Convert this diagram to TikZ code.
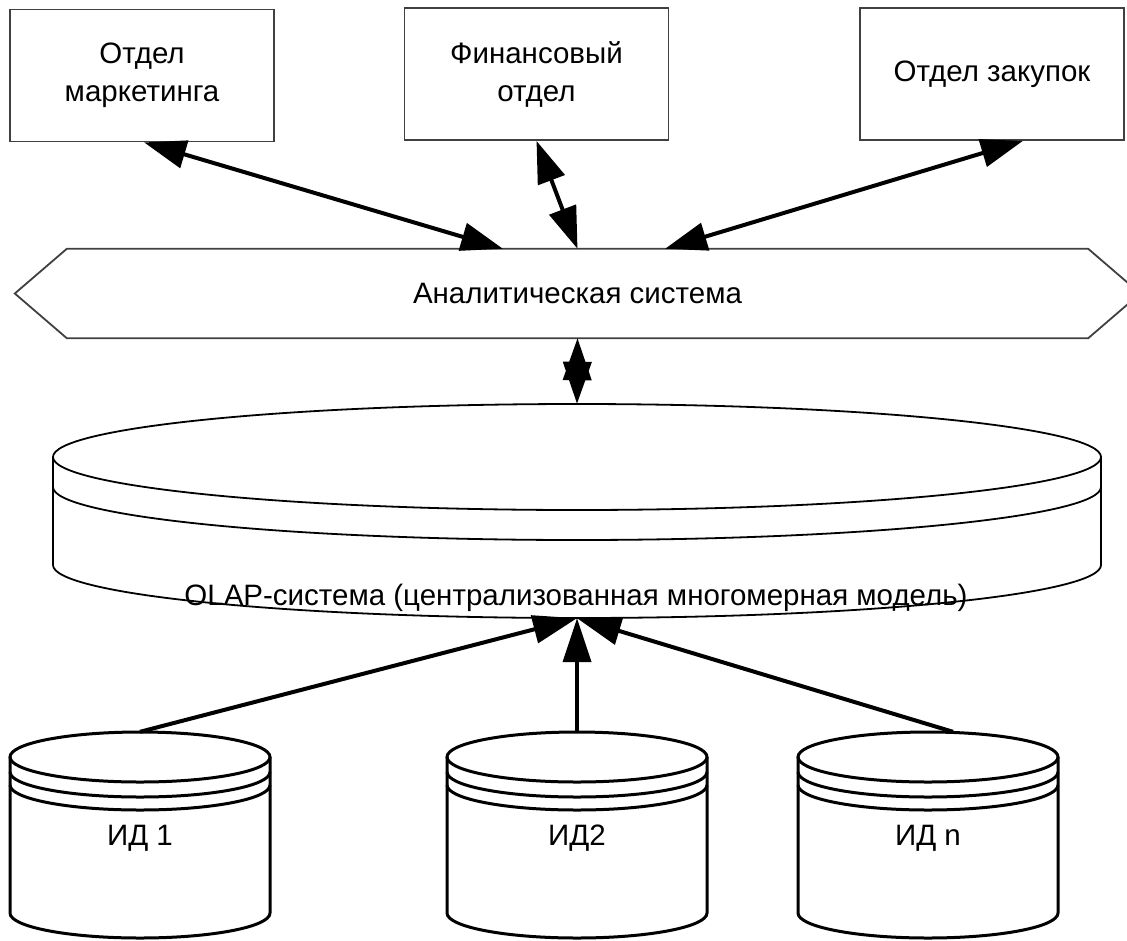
\documentclass[tikz,border=0pt]{standalone}
\usepackage{fontspec}
\setmainfont{Liberation Sans}
\usetikzlibrary{arrows.meta}
\begin{document}
\begin{tikzpicture}[x=1pt,y=-1pt,
  txt/.style={font=\fontsize{29.5}{38}\selectfont, align=center, inner sep=0pt},
  box/.style={txt, draw=black!75, line width=1.8pt, minimum width=264pt, minimum height=132pt},
  conn/.style={line width=4pt, {Triangle[length=42pt,width=28pt]}-{Triangle[length=42pt,width=28pt]}},
  feed/.style={line width=4pt, -{Triangle[length=44pt,width=28pt]}},
  hexline/.style={draw=black!75, line width=1.8pt, line join=miter},
  olapline/.style={line width=1.8pt},
  dbline/.style={line width=3pt},
  dbcyl/.pic={
    \draw[dbline] (0,0) ellipse [x radius=130, y radius=25];
    \draw[dbline] (-130,15) arc [start angle=180, end angle=0, x radius=130, y radius=25];
    \draw[dbline] (-130,28) arc [start angle=180, end angle=0, x radius=130, y radius=25];
    \draw[dbline] (-130,0) -- (-130,156) arc [start angle=180, end angle=0, x radius=130, y radius=25] -- (130,0);
  }]
\useasboundingbox (0,0) rectangle (1127,940);
\fill[white] (0,0) rectangle (1127,940);

% top boxes
\node[box] (mk) at (142,75.5) {Отдел\\маркетинга};
\node[box] (fin) at (536.5,74) {Финансовый\\отдел};
\node[box] (pr) at (992,74) {Отдел закупок};

% analytic system (hexagon)
\node[txt, minimum width=1021pt, minimum height=89pt] (ana) at (577.5,293.5) {Аналитическая система};
\draw[hexline] (ana.north west) -- (ana.north east) -- ([xshift=52pt]ana.east) -- (ana.south east)
  -- (ana.south west) -- ([xshift=-52pt]ana.west) -- cycle;

% OLAP cylinder
\node[minimum width=1048pt, minimum height=214pt, inner sep=0pt] (olap) at (577,511) {};
\draw[olapline] (577,457) ellipse [x radius=524, y radius=53];
\draw[olapline] (53,487) arc [start angle=180, end angle=0, x radius=524, y radius=53];
\draw[olapline] (53,457) -- (53,565) arc [start angle=180, end angle=0, x radius=524, y radius=53] -- (1101,457);
\node[txt] (olaplbl) at (576,598) {OLAP-система (централизованная многомерная модель)};

% source databases
\pic at (140,757) {dbcyl};
\pic at (577,757) {dbcyl};
\pic at (928,757) {dbcyl};
\node[txt, minimum width=262pt, minimum height=212pt] (d1) at (140,838) {ИД 1};
\node[txt, minimum width=262pt, minimum height=212pt] (d2) at (577,838) {ИД2};
\node[txt, minimum width=262pt, minimum height=212pt] (dn) at (928,838) {ИД n};

% connectors
\draw[conn] ([xshift=135pt]mk.south west) -- ([xshift=-74.5pt]ana.north);
\draw[conn] (fin.south) -- (ana.north);
\draw[conn] ([xshift=-102pt]pr.south east) -- ([xshift=87.5pt]ana.north);
\draw[conn] (ana.south) -- (olap.north);
\draw[feed] (d1.north) -- (olap.south);
\draw[feed] (d2.north) -- (olap.south);
\draw[feed] ([xshift=25pt]dn.north) -- (olap.south);
\end{tikzpicture}
\end{document}
